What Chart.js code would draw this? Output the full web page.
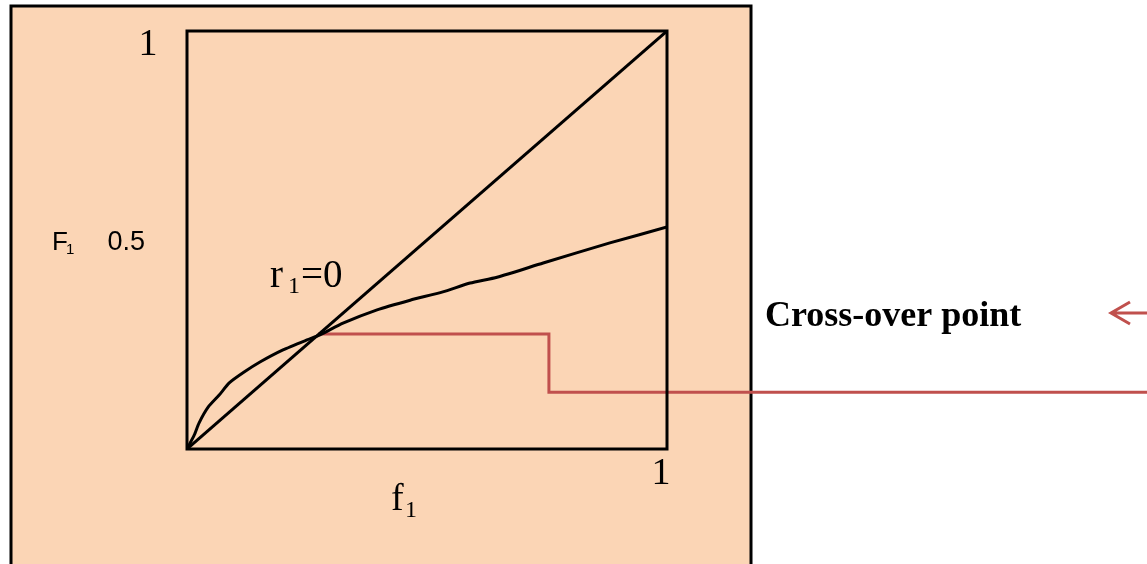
<!DOCTYPE html>
<html>
<head>
<meta charset="utf-8">
<script src="https://cdn.jsdelivr.net/npm/chart.js@4.4.1/dist/chart.umd.min.js"></script>
<style>
  html, body { margin: 0; padding: 0; background: #fff; }
  #wrap { width: 1147px; height: 564px; }
</style>
</head>
<body>
<div id="wrap"><canvas id="myChart"></canvas></div>
<script>
// f1 vs F1 curve for r1 = 0
const curveX = [0, 0.015, 0.025, 0.044, 0.067, 0.088, 0.119, 0.152, 0.2, 0.25, 0.277, 0.325, 0.396, 0.465, 0.533, 0.59, 0.646, 0.742, 0.881, 1.0];
const curveY = [0, 0.033, 0.062, 0.100, 0.129, 0.158, 0.184, 0.208, 0.237, 0.261, 0.273, 0.301, 0.333, 0.356, 0.376, 0.397, 0.411, 0.445, 0.493, 0.531];
const diagX = [0, 1];
const diagY = [0, 1];
// callout line from the cross-over point to the label
const calloutX = [0.273, 0.754, 0.754, 2.0];
const calloutY = [0.275, 0.275, 0.136, 0.136];
const yTicks = [1, 0.5];
const yTickLabels = ['1', '0.5'];
const xTicks = [1];
const xTickLabels = ['1'];

const toPoints = (xs, ys) => xs.map((x, i) => ({ x: x, y: ys[i] }));

const paper = {
  id: 'paper',
  beforeDraw(chart) {
    const ctx = chart.ctx;
    ctx.save();
    ctx.fillStyle = '#fbd5b5';
    ctx.fillRect(11, 6, 740, 570);
    ctx.strokeStyle = '#000';
    ctx.lineWidth = 3;
    ctx.strokeRect(11, 6, 740, 570);
    ctx.restore();
  },
  afterDatasetsDraw(chart) {
    const ctx = chart.ctx;
    const a = chart.chartArea;
    const x = chart.scales.x, y = chart.scales.y;
    ctx.save();
    ctx.strokeStyle = '#000';
    ctx.lineWidth = 3;
    ctx.strokeRect(a.left, a.top, a.right - a.left, a.bottom - a.top);

    ctx.fillStyle = '#000';
    ctx.textBaseline = 'alphabetic';
    // y ticks
    ctx.textAlign = 'center';
    ctx.font = '38px "Liberation Serif", serif';
    ctx.fillText(yTickLabels[0], 148, y.getPixelForValue(yTicks[0]) + 24);
    ctx.textAlign = 'right';
    ctx.font = '27px "Liberation Sans", sans-serif';
    ctx.fillText(yTickLabels[1], 145, y.getPixelForValue(yTicks[1]) + 10);
    // y title F1
    ctx.textAlign = 'left';
    ctx.font = '26px "Liberation Sans Narrow", "Liberation Sans", sans-serif';
    ctx.fillText('F', 52, y.getPixelForValue(0.5) + 10);
    ctx.font = '15px "Liberation Sans Narrow", "Liberation Sans", sans-serif';
    ctx.fillText('1', 66, y.getPixelForValue(0.5) + 14);
    // x tick
    ctx.textAlign = 'center';
    ctx.font = '38px "Liberation Serif", serif';
    ctx.fillText(xTickLabels[0], x.getPixelForValue(xTicks[0]) - 6, 484);
    // x title f1
    ctx.textAlign = 'left';
    ctx.fillText('f', 391, 510);
    ctx.font = '24px "Liberation Serif", serif';
    ctx.fillText('1', 405, 517);
    // r1=0
    ctx.font = '39px "Liberation Serif", serif';
    ctx.fillText('r', 270, 287);
    ctx.font = '24px "Liberation Serif", serif';
    ctx.fillText('1', 288, 293);
    ctx.font = '39px "Liberation Serif", serif';
    ctx.fillText('=0', 301, 287);
    // callout label
    ctx.font = 'bold 36px "Liberation Serif", serif';
    ctx.fillText('Cross-over point', 765, 326);
    // arrow
    ctx.strokeStyle = '#c0504d';
    ctx.lineWidth = 3;
    ctx.beginPath();
    ctx.moveTo(1147, 313);
    ctx.lineTo(1111, 313);
    ctx.moveTo(1130, 302);
    ctx.lineTo(1111, 313);
    ctx.lineTo(1130, 324);
    ctx.stroke();
    ctx.restore();
  }
};

new Chart(document.getElementById('myChart'), {
  type: 'scatter',
  data: {
    datasets: [
      {
        label: 'r1=0',
        data: toPoints(curveX, curveY),
        showLine: true,
        borderColor: '#000',
        borderWidth: 3,
        pointRadius: 0,
        tension: 0.2
      },
      {
        label: 'diagonal',
        data: toPoints(diagX, diagY),
        showLine: true,
        borderColor: '#000',
        borderWidth: 3,
        pointRadius: 0
      },
      {
        label: 'callout',
        data: toPoints(calloutX, calloutY),
        showLine: true,
        borderColor: '#c0504d',
        borderWidth: 3,
        pointRadius: 0,
        clip: false
      }
    ]
  },
  options: {
    responsive: true,
    maintainAspectRatio: false,
    animation: false,
    layout: { padding: { left: 187, top: 31, right: 480, bottom: 115 } },
    plugins: { legend: { display: false }, tooltip: { enabled: false } },
    scales: {
      x: { type: 'linear', min: 0, max: 1, display: false },
      y: { type: 'linear', min: 0, max: 1, display: false }
    }
  },
  plugins: [paper]
});
</script>
</body>
</html>
